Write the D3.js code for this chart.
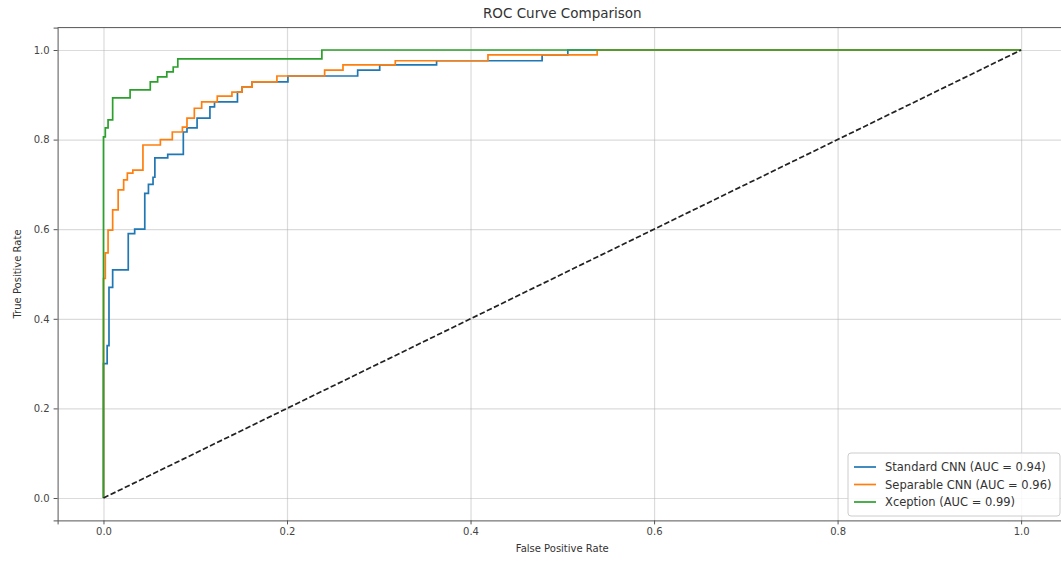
<!DOCTYPE html>
<html>
<head>
<meta charset="utf-8">
<script src="https://cdn.jsdelivr.net/npm/d3@7"></script>
<style>
  body { margin: 0; background: #fff; }
  text { font-family: "DejaVu Sans", sans-serif; fill: #333; }
</style>
</head>
<body>
<div id="chart"></div>
<script>
// ROC points (fpr, tpr)
const fprStandard = [0, 0, 0.004, 0.004, 0.006, 0.006, 0.010, 0.010, 0.027, 0.027, 0.034, 0.034, 0.045, 0.045, 0.049, 0.049, 0.054, 0.054, 0.056, 0.056, 0.070, 0.070, 0.087, 0.087, 0.091, 0.091, 0.102, 0.102, 0.116, 0.116, 0.121, 0.121, 0.146, 0.146, 0.151, 0.151, 0.162, 0.162, 0.201, 0.201, 0.277, 0.277, 0.301, 0.301, 0.363, 0.363, 0.478, 0.478, 0.506, 0.506, 1]
const tprStandard = [0, 0.30, 0.30, 0.34, 0.34, 0.47, 0.47, 0.509, 0.509, 0.59, 0.59, 0.60, 0.60, 0.68, 0.68, 0.70, 0.70, 0.716, 0.716, 0.759, 0.759, 0.767, 0.767, 0.817, 0.817, 0.826, 0.826, 0.848, 0.848, 0.873, 0.873, 0.884, 0.884, 0.906, 0.906, 0.917, 0.917, 0.929, 0.929, 0.942, 0.942, 0.955, 0.955, 0.967, 0.967, 0.976, 0.976, 0.989, 0.989, 1, 1]

const fprSeparable = [0, 0, 0.002, 0.002, 0.005, 0.005, 0.010, 0.010, 0.016, 0.016, 0.022, 0.022, 0.026, 0.026, 0.032, 0.032, 0.043, 0.043, 0.062, 0.062, 0.075, 0.075, 0.086, 0.086, 0.091, 0.091, 0.099, 0.099, 0.107, 0.107, 0.124, 0.124, 0.140, 0.140, 0.151, 0.151, 0.162, 0.162, 0.189, 0.189, 0.241, 0.241, 0.261, 0.261, 0.318, 0.318, 0.419, 0.419, 0.538, 0.538, 1]
const tprSeparable = [0, 0.49, 0.49, 0.547, 0.547, 0.598, 0.598, 0.643, 0.643, 0.688, 0.688, 0.71, 0.71, 0.725, 0.725, 0.732, 0.732, 0.788, 0.788, 0.80, 0.80, 0.817, 0.817, 0.828, 0.828, 0.848, 0.848, 0.87, 0.87, 0.884, 0.884, 0.897, 0.897, 0.906, 0.906, 0.917, 0.917, 0.929, 0.929, 0.942, 0.942, 0.955, 0.955, 0.967, 0.967, 0.976, 0.976, 0.989, 0.989, 1, 1]

const fprXception = [0, 0, 0.002, 0.002, 0.005, 0.005, 0.010, 0.010, 0.029, 0.029, 0.051, 0.051, 0.059, 0.059, 0.069, 0.069, 0.076, 0.076, 0.081, 0.081, 0.238, 0.238, 1]
const tprXception = [0, 0.806, 0.806, 0.826, 0.826, 0.844, 0.844, 0.893, 0.893, 0.911, 0.911, 0.929, 0.929, 0.940, 0.940, 0.951, 0.951, 0.962, 0.962, 0.980, 0.980, 1, 1]

const modelNames = ["Standard CNN", "Separable CNN", "Xception"]
const aucValues = [0.94, 0.96, 0.99]
const modelColors = ["#1f77b4", "#ff7f0e", "#2ca02c"]
const tickValues = [0, 0.2, 0.4, 0.6, 0.8, 1.0]

const width = 1061
const height = 561
const margin = { left: 57.6, right: -6, top: 27.6, bottom: 40.6 }

const x = d3.scaleLinear().domain([-0.05, 1.05]).range([margin.left, width - margin.right])
const y = d3.scaleLinear().domain([-0.05, 1.05]).range([height - margin.bottom, margin.top])

const svg = d3.select("#chart")
  .append("svg")
  .attr("width", width)
  .attr("height", height)

// grid
svg.append("g")
  .attr("transform", "translate(0," + (height - margin.bottom) + ")")
  .call(d3.axisBottom(x).tickValues(tickValues).tickSize(-(height - margin.top - margin.bottom)).tickFormat(""))
  .call(g => g.select(".domain").remove())
  .call(g => g.selectAll("line").attr("stroke", "#b0b0b0").attr("stroke-opacity", 0.45).attr("stroke-width", 1.2))
svg.append("g")
  .attr("transform", "translate(" + margin.left + ",0)")
  .call(d3.axisLeft(y).tickValues(tickValues).tickSize(-(width - margin.left - margin.right)).tickFormat(""))
  .call(g => g.select(".domain").remove())
  .call(g => g.selectAll("line").attr("stroke", "#b0b0b0").attr("stroke-opacity", 0.45).attr("stroke-width", 1.2))

// curves
const series = [
  { fpr: fprStandard, tpr: tprStandard },
  { fpr: fprSeparable, tpr: tprSeparable },
  { fpr: fprXception, tpr: tprXception }
]
const line = d3.line().x(d => x(d[0])).y(d => y(d[1]))
series.forEach((s, i) => {
  svg.append("path")
    .datum(s.fpr.map((f, j) => [f, s.tpr[j]]))
    .attr("fill", "none")
    .attr("stroke", modelColors[i])
    .attr("stroke-width", 1.7)
    .attr("stroke-linejoin", "miter")
    .attr("d", line)
})

// chance line
svg.append("path")
  .datum([[0, 0], [1, 1]])
  .attr("fill", "none")
  .attr("stroke", "#222")
  .attr("stroke-width", 1.7)
  .attr("stroke-dasharray", "5.5,2.4")
  .attr("d", line)

// axes
const xAxis = svg.append("g")
  .attr("transform", "translate(0," + (height - margin.bottom) + ")")
  .call(d3.axisBottom(x).tickValues(tickValues).tickFormat(d3.format(".1f")).tickSizeOuter(0).tickSize(4).tickPadding(4))
const yAxis = svg.append("g")
  .attr("transform", "translate(" + margin.left + ",0)")
  .call(d3.axisLeft(y).tickValues(tickValues).tickFormat(d3.format(".1f")).tickSizeOuter(0).tickSize(4).tickPadding(4))
;[xAxis, yAxis].forEach(g => {
  g.select(".domain").attr("stroke", "#555").attr("stroke-width", 1)
  g.selectAll(".tick line").attr("stroke", "#555")
  g.selectAll(".tick text").style("font-size", "10px").style("fill", "#444")
})
// top spine
svg.append("line")
  .attr("x1", margin.left).attr("x2", width - margin.right)
  .attr("y1", margin.top).attr("y2", margin.top)
  .attr("stroke", "#555")

// labels
svg.append("text")
  .attr("x", (margin.left + width - margin.right) / 2)
  .attr("y", 18)
  .attr("text-anchor", "middle")
  .style("font-size", "13.5px")
  .text("ROC Curve Comparison")
svg.append("text")
  .attr("x", (margin.left + width - margin.right) / 2)
  .attr("y", 552)
  .attr("text-anchor", "middle")
  .style("font-size", "10px")
  .text("False Positive Rate")
svg.append("text")
  .attr("transform", "translate(21," + ((margin.top + height - margin.bottom) / 2) + ") rotate(-90)")
  .attr("text-anchor", "middle")
  .style("font-size", "10px")
  .text("True Positive Rate")

// legend
const legend = svg.append("g").attr("transform", "translate(848,453)")
legend.append("rect")
  .attr("width", 212).attr("height", 63)
  .attr("rx", 3)
  .attr("fill", "#fff").attr("fill-opacity", 0.85)
  .attr("stroke", "#ccc")
modelNames.forEach((name, i) => {
  const row = legend.append("g").attr("transform", "translate(0," + (14 + i * 17.5) + ")")
  row.append("line")
    .attr("x1", 6).attr("x2", 28)
    .attr("stroke", modelColors[i]).attr("stroke-width", 1.7)
  row.append("text")
    .attr("x", 37).attr("dy", "0.35em")
    .style("font-size", "11.5px")
    .text(name + " (AUC = " + aucValues[i].toFixed(2) + ")")
})
</script>
</body>
</html>
